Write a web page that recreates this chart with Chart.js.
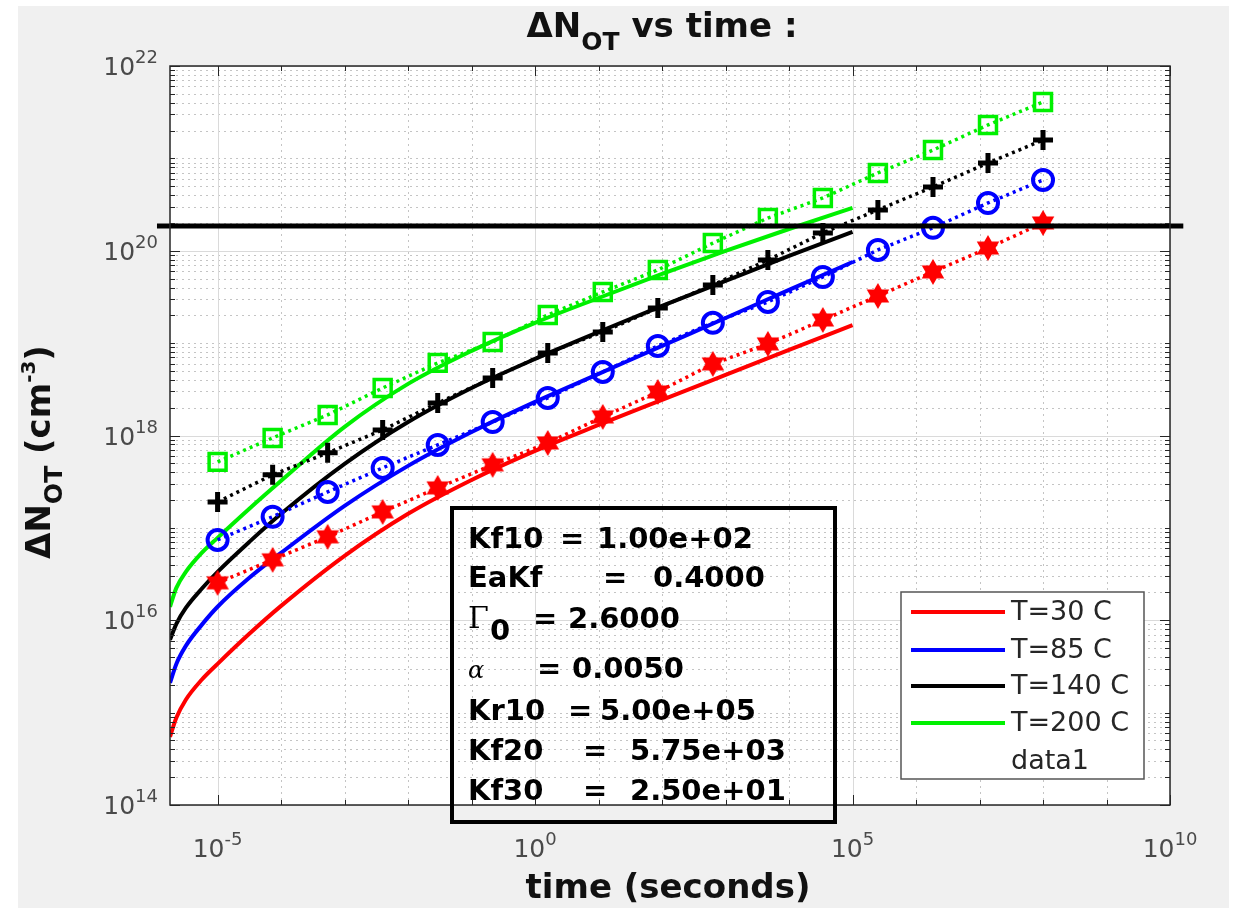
<!DOCTYPE html>
<html>
<head>
<meta charset="utf-8">
<title>dNot vs time</title>
<script src="https://cdn.jsdelivr.net/npm/chart.js@4.4.1/dist/chart.umd.min.js"></script>
<style>
  html, body { margin: 0; padding: 0; background: #fff; }
  #wrap { position: relative; width: 1240px; height: 908px; }
</style>
</head>
<body>
<div id="wrap"><canvas id="chart" width="1240" height="908"></canvas></div>
<script>
// measured points (dotted lines with markers), 16 times from 1e-5 to 1e8
const markerTimes = [1e-5, 7.36e-5, 5.41e-4, 3.98e-3, 2.93e-2, 0.215, 1.585, 11.66,
                     85.8, 631, 4642, 3.41e4, 2.51e5, 1.85e6, 1.36e7, 1e8];
const data30  = [2.54e16, 4.51e16, 8.0e16, 1.49e17, 2.71e17, 4.81e17, 8.3e17, 1.59e18,
                 2.96e18, 5.96e18, 9.8e18, 1.78e19, 3.24e19, 5.9e19, 1.07e20, 2.0e20];
const data85  = [7.41e16, 1.32e17, 2.45e17, 4.46e17, 7.91e17, 1.40e18, 2.55e18, 4.88e18,
                 9.33e18, 1.66e19, 2.79e19, 5.20e19, 1.02e20, 1.77e20, 3.29e20, 5.84e20];
const data140 = [1.91e17, 3.75e17, 6.49e17, 1.15e18, 2.25e18, 4.20e18, 7.83e18, 1.32e19,
                 2.40e19, 4.27e19, 7.94e19, 1.56e20, 2.77e20, 4.90e20, 8.91e20, 1.58e21];
const data200 = [5.18e17, 9.42e17, 1.67e18, 3.27e18, 6.11e18, 1.03e19, 2.02e19, 3.58e19,
                 6.20e19, 1.21e20, 2.26e20, 3.73e20, 6.95e20, 1.23e21, 2.30e21, 4.08e21];

// model curves (solid lines)
const modelTimes = [1.78e-6, 2.24e-6, 3.16e-6, 5.62e-6, 1e-5, 3.16e-5, 1e-4, 1e-3,
                    1e-2, 0.1, 1, 10, 100, 1e3, 1e4, 1e5];
const model30  = [5.47e14, 8.79e14, 1.38e15, 2.27e15, 3.37e15, 7.13e15, 1.43e16, 4.98e16,
                  1.42e17, 3.30e17, 6.81e17, 1.30e18, 2.43e18, 4.53e18, 8.44e18, 1.57e19];
const model85  = [2.10e15, 3.37e15, 5.28e15, 8.91e15, 1.40e16, 2.88e16, 5.36e16, 1.73e17,
                  4.69e17, 1.09e18, 2.31e18, 4.64e18, 9.33e18, 1.87e19, 3.77e19, 7.56e19];
const model140 = [6.14e15, 9.14e15, 1.36e16, 2.19e16, 3.34e16, 7.05e16, 1.42e17, 4.93e17,
                  1.40e18, 3.27e18, 6.75e18, 1.32e19, 2.53e19, 4.71e19, 8.79e19, 1.60e20];
const model200 = [1.40e16, 2.24e16, 3.34e16, 5.36e16, 7.80e16, 1.61e17, 3.23e17, 1.24e18,
                  3.62e18, 8.24e18, 1.66e19, 3.08e19, 5.61e19, 9.95e19, 1.72e20, 2.91e20];

// horizontal reference line ("data1"), runs a bit past both axes
const limitLevel = 1.85e20;
const limitTimes = [1.11e-6, 1.62e10];

const xTickExps = [-5, 0, 5, 10];
const yTickExps = [14, 16, 18, 20, 22];
const legendLabels = ['T=30 C', 'T=85 C', 'T=140 C', 'T=200 C', 'data1'];

const X_MIN = 1.78e-6, X_MAX = 1e10;
const Y_MIN = 1e14, Y_MAX = 1e22;

const RED = '#ff0000', BLUE = '#0000ff', BLACK = '#000000', GREEN = '#00f000';
const SANS = '"DejaVu Sans", Verdana, sans-serif';
const SERIF = '"DejaVu Serif", "Liberation Serif", serif';

const pts = (xs, ys) => xs.map((t, i) => ({ x: t, y: ys[i] }));

function hexagram(color, R) {
  const c = document.createElement('canvas');
  const s = Math.ceil(2 * R + 2);
  c.width = c.height = s;
  const g = c.getContext('2d');
  const m = s / 2, r = R / Math.sqrt(3);
  g.beginPath();
  for (let k = 0; k < 12; k++) {
    const ang = -Math.PI / 2 + k * Math.PI / 6;
    const rr = k % 2 ? r : R;
    g.lineTo(m + rr * Math.cos(ang), m + rr * Math.sin(ang));
  }
  g.closePath();
  g.fillStyle = color;
  g.fill();
  return c;
}

function modelSet(label, color, ys) {
  return {
    label, data: pts(modelTimes, ys), borderColor: color, borderWidth: 4,
    pointRadius: 0, cubicInterpolationMode: 'monotone', order: 2
  };
}

function markerSet(label, color, ys, style, radius, bw) {
  return {
    label, data: pts(markerTimes, ys), borderColor: color, borderWidth: 3.5,
    borderDash: [3, 4], pointStyle: style, pointRadius: radius,
    pointBorderWidth: bw, pointBorderColor: color,
    pointBackgroundColor: 'rgba(0,0,0,0)', order: 1
  };
}

// draw runs of text (base/sub/superscripts) as one label
function runs(ctx, items, x, y, align) {
  let w = 0;
  items.forEach(it => { ctx.font = it.font; it.w = ctx.measureText(it.t).width; w += it.w; });
  let cx = align === 'center' ? x - w / 2 : align === 'right' ? x - w : x;
  ctx.textAlign = 'left';
  ctx.textBaseline = 'alphabetic';
  items.forEach(it => { ctx.font = it.font; ctx.fillText(it.t, cx, y + (it.dy || 0)); cx += it.w; });
}

function pow10(exp) {
  return [
    { t: '10', font: `25px ${SANS}` },
    { t: String(exp), font: `18px ${SANS}`, dy: -12 }
  ];
}

const matlabAxes = {
  id: 'matlabAxes',
  beforeDraw(chart) {
    const { ctx, chartArea: a, scales: { x, y } } = chart;
    ctx.save();
    ctx.fillStyle = '#ffffff';
    ctx.fillRect(0, 0, chart.width, chart.height);
    ctx.fillStyle = '#f0f0f0';
    ctx.fillRect(18, 6, 1211, 902);
    ctx.fillStyle = '#ffffff';
    ctx.fillRect(a.left, a.top, a.right - a.left, a.bottom - a.top);

    // minor grid (dotted)
    ctx.lineWidth = 1;
    ctx.strokeStyle = '#c4c4c4';
    ctx.setLineDash([2, 4]);
    ctx.beginPath();
    for (let e = -5; e <= 9; e++) {
      if (e % 5 === 0) continue;
      const px = Math.round(x.getPixelForValue(Math.pow(10, e))) + 0.5;
      ctx.moveTo(px, a.top); ctx.lineTo(px, a.bottom);
    }
    for (let e = 14; e < 22; e++) {
      for (let m = 1; m <= 9; m++) {
        if (m === 1 && e % 2 === 0) continue;
        const py = Math.round(y.getPixelForValue(m * Math.pow(10, e))) + 0.5;
        ctx.moveTo(a.left, py); ctx.lineTo(a.right, py);
      }
    }
    ctx.stroke();

    // major grid (solid)
    ctx.setLineDash([]);
    ctx.strokeStyle = '#dadada';
    ctx.beginPath();
    xTickExps.forEach(e => {
      const px = Math.round(x.getPixelForValue(Math.pow(10, e))) + 0.5;
      ctx.moveTo(px, a.top); ctx.lineTo(px, a.bottom);
    });
    yTickExps.forEach(e => {
      const py = Math.round(y.getPixelForValue(Math.pow(10, e))) + 0.5;
      ctx.moveTo(a.left, py); ctx.lineTo(a.right, py);
    });
    ctx.stroke();
    ctx.restore();
  },

  afterDatasetsDraw(chart) {
    const { ctx, chartArea: a, scales: { x, y } } = chart;
    ctx.save();

    // axes box and inward ticks
    ctx.strokeStyle = '#262626';
    ctx.lineWidth = 1.5;
    ctx.strokeRect(a.left, a.top, a.right - a.left, a.bottom - a.top);
    ctx.lineWidth = 1;
    ctx.beginPath();
    for (let e = -5; e <= 10; e++) {
      const len = e % 5 === 0 ? 10 : 5;
      const px = Math.round(x.getPixelForValue(Math.pow(10, e))) + 0.5;
      ctx.moveTo(px, a.bottom); ctx.lineTo(px, a.bottom - len);
      ctx.moveTo(px, a.top); ctx.lineTo(px, a.top + len);
    }
    for (let e = 14; e <= 22; e++) {
      for (let m = 1; m <= 9; m++) {
        if (e === 22 && m > 1) break;
        const len = (m === 1 && e % 2 === 0) ? 10 : 5;
        const py = Math.round(y.getPixelForValue(m * Math.pow(10, e))) + 0.5;
        ctx.moveTo(a.left, py); ctx.lineTo(a.left + len, py);
        ctx.moveTo(a.right, py); ctx.lineTo(a.right - len, py);
      }
    }
    ctx.stroke();

    // tick labels
    ctx.fillStyle = '#4a4a4a';
    xTickExps.forEach(e => {
      runs(ctx, pow10(e), x.getPixelForValue(Math.pow(10, e)), a.bottom + 52, 'center');
    });
    yTickExps.forEach(e => {
      runs(ctx, pow10(e), a.left - 12, y.getPixelForValue(Math.pow(10, e)) + 9, 'right');
    });

    // title and axis labels
    ctx.fillStyle = '#111';
    runs(ctx, [
      { t: '\u0394N', font: `bold 34px ${SANS}` },
      { t: 'OT', font: `bold 25px ${SANS}`, dy: 13 },
      { t: ' vs time :', font: `bold 34px ${SANS}` }
    ], 662, 37, 'center');
    runs(ctx, [{ t: 'time (seconds)', font: `bold 34px ${SANS}` }], 668, 898, 'center');
    ctx.save();
    ctx.translate(50, 452);
    ctx.rotate(-Math.PI / 2);
    runs(ctx, [
      { t: '\u0394N', font: `bold 34px ${SANS}` },
      { t: 'OT', font: `bold 25px ${SANS}`, dy: 12 },
      { t: ' (cm', font: `bold 34px ${SANS}` },
      { t: '-3', font: `bold 20px ${SANS}`, dy: -15 },
      { t: ')', font: `bold 34px ${SANS}` }
    ], 0, 0, 'center');
    ctx.restore();

    // parameter text box
    ctx.strokeStyle = '#000';
    ctx.lineWidth = 4;
    ctx.strokeRect(452, 508, 383, 314);
    const B = `bold 29px ${SANS}`;
    ctx.fillStyle = '#000';
    ctx.textAlign = 'left';
    const rows = [
      [548, [['Kf10', 468, B], ['=', 560, B], ['1.00e+02', 597, B]]],
      [587, [['EaKf', 468, B], ['=', 603, B], ['0.4000', 653, B]]],
      [628, [['\u0393', 468, `30px ${SERIF}`], ['0', 490, B, 12], ['=', 533, B], ['2.6000', 568, B]]],
      [678, [['\u03b1', 468, `italic 24px ${SERIF}`], ['=', 537, B], ['0.0050', 572, B]]],
      [720, [['Kr10', 468, B], ['=', 568, B], ['5.00e+05', 600, B]]],
      [760, [['Kf20', 468, B], ['=', 583, B], ['5.75e+03', 630, B]]],
      [800, [['Kf30', 468, B], ['=', 583, B], ['2.50e+01', 630, B]]]
    ];
    rows.forEach(([by, segs]) => {
      segs.forEach(([t, sx, f, dy]) => { ctx.font = f; ctx.fillText(t, sx, by + (dy || 0)); });
    });

    // legend
    ctx.fillStyle = '#ffffff';
    ctx.fillRect(901, 592, 243, 187);
    ctx.strokeStyle = '#555';
    ctx.lineWidth = 1.5;
    ctx.strokeRect(901, 592, 243, 187);
    const legColors = [RED, BLUE, BLACK, GREEN];
    const legY = [612, 650, 686, 723, 761];
    ctx.lineWidth = 4;
    legColors.forEach((c, i) => {
      ctx.strokeStyle = c;
      ctx.beginPath(); ctx.moveTo(911, legY[i]); ctx.lineTo(1005, legY[i]); ctx.stroke();
    });
    ctx.fillStyle = '#262626';
    ctx.font = `27px ${SANS}`;
    ctx.textBaseline = 'middle';
    legendLabels.forEach((l, i) => ctx.fillText(l, 1011, legY[i] + 1));
    ctx.restore();
  }
};

const starImg = hexagram(RED, 13);

new Chart(document.getElementById('chart'), {
  type: 'line',
  data: {
    datasets: [
      {
        label: 'data1', data: pts(limitTimes, [limitLevel, limitLevel]),
        borderColor: BLACK, borderWidth: 5, pointRadius: 0, clip: false, order: 0
      },
      markerSet('T=30 C data', RED, data30, starImg, 13, 1),
      markerSet('T=85 C data', BLUE, data85, 'circle', 10, 4),
      markerSet('T=140 C data', BLACK, data140, 'cross', 10, 5),
      markerSet('T=200 C data', GREEN, data200, 'rect', 12, 3.5),
      modelSet('T=30 C', RED, model30),
      modelSet('T=85 C', BLUE, model85),
      modelSet('T=140 C', BLACK, model140),
      modelSet('T=200 C', GREEN, model200)
    ]
  },
  options: {
    responsive: false,
    animation: false,
    devicePixelRatio: 1,
    events: [],
    layout: { padding: { left: 170, right: 70, top: 66, bottom: 103 } },
    scales: {
      x: { type: 'logarithmic', min: X_MIN, max: X_MAX, display: false },
      y: { type: 'logarithmic', min: Y_MIN, max: Y_MAX, display: false }
    },
    plugins: { legend: { display: false }, tooltip: { enabled: false } }
  },
  plugins: [matlabAxes]
});
</script>
</body>
</html>
